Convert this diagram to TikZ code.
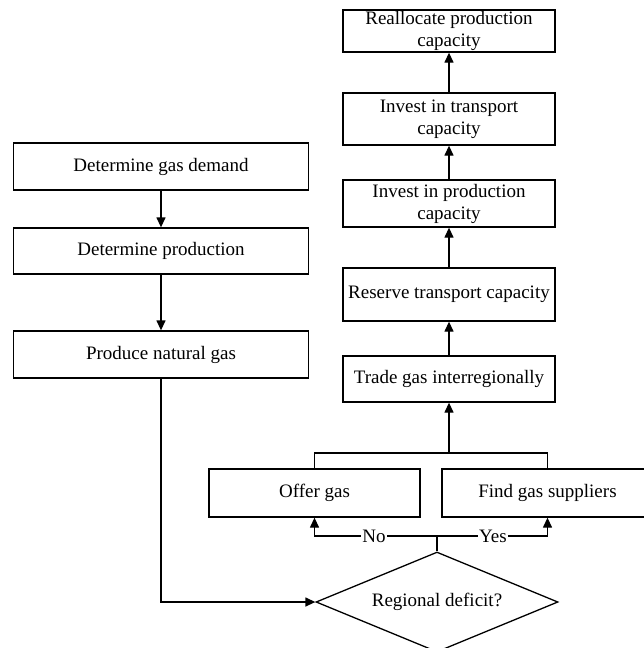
\documentclass[tikz,border=0pt]{standalone}
\usepackage{fontspec}
\setmainfont{Liberation Serif}
\usetikzlibrary{arrows.meta,shapes.geometric,calc}
\begin{document}
\begin{tikzpicture}[x=1pt,y=-1pt,
  every node/.style={font=\fontsize{19}{22}\selectfont},
  boxl/.style={draw,line width=1.3pt,minimum width=295pt,inner sep=0pt,align=center},
  boxr/.style={draw,line width=1.3pt,minimum width=212pt,inner sep=0pt,align=center},
  boxb/.style={draw,line width=1.3pt,minimum width=211pt,minimum height=48pt,inner sep=0pt,align=center},
  dia/.style={draw,diamond,line width=1.3pt,minimum width=242pt,minimum height=100pt,inner sep=0pt,aspect=2.42},
  conn/.style={line width=1.3pt},
  arr/.style={conn,-{Triangle[length=10pt,width=9pt]}},
  lab/.style={fill=white,inner sep=1pt}]
\clip (0,0) rectangle (644,648);
\useasboundingbox (0,0) rectangle (644,648);
% left column
\node[boxl,minimum height=47pt] (d1) at (161,166.5) {Determine gas demand};
\node[boxl,minimum height=46pt] (d2) at (161,251) {Determine production};
\node[boxl,minimum height=47pt] (d3) at (161,354.5) {Produce natural gas};
% right column
\node[boxr,minimum height=42pt] (r1) at (449,31) {Reallocate production\\capacity};
\node[boxr,minimum height=52pt] (r2) at (449,119) {Invest in transport\\capacity};
\node[boxr,minimum height=47pt] (r3) at (449,203.5) {Invest in production\\capacity};
\node[boxr,minimum height=53pt] (r4) at (449,294.5) {Reserve transport capacity};
\node[boxr,minimum height=46pt] (r5) at (449,379) {Trade gas interregionally};
% bottom
\node[boxb] (offer) at (314.5,493) {Offer gas};
\node[boxb] (find) at (547.5,493) {Find gas suppliers};
\node[dia] (rd) at (437,602) {Regional deficit?};
\coordinate (split) at (437,536);
\coordinate (merge) at (449,453);
% connectors
\draw[arr] (d1.south) -- (d2.north);
\draw[arr] (d2.south) -- (d3.north);
\draw[arr] (d3.south) |- (rd.west);
\draw[conn] (rd.north) -- (split);
\draw[arr] (split) -| (offer.south) node[lab,pos=0.257] {No};
\draw[arr] (split) -| (find.south) node[lab,pos=0.253] {Yes};
\draw[conn] (offer.north) |- (merge) -| (find.north);
\draw[arr] (merge) -- (r5.south);
\draw[arr] (r5.north) -- (r4.south);
\draw[arr] (r4.north) -- (r3.south);
\draw[arr] (r3.north) -- (r2.south);
\draw[arr] (r2.north) -- (r1.south);
\end{tikzpicture}
\end{document}
